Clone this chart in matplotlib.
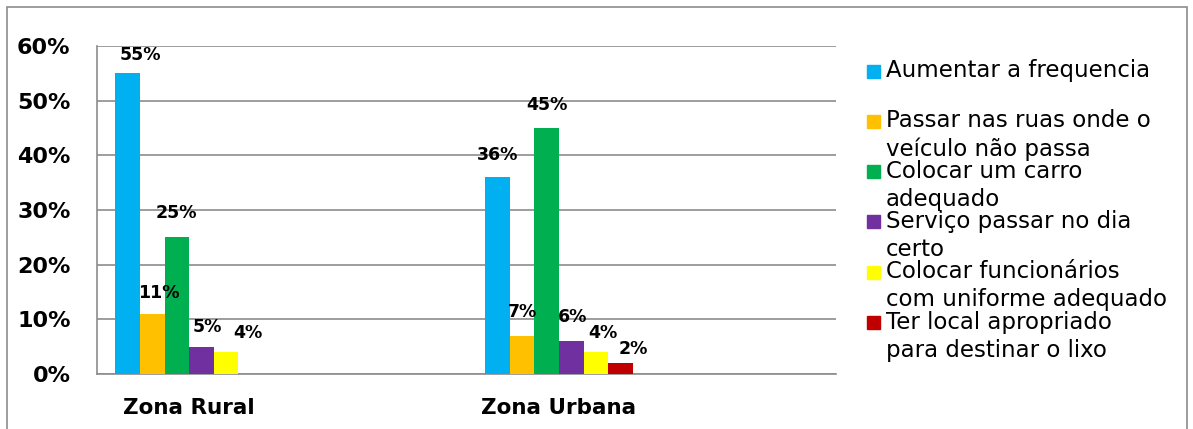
import matplotlib.pyplot as plt
from matplotlib.patches import Rectangle

categories = ['Zona Rural', 'Zona Urbana']
series = ['Aumentar a frequencia',
          'Passar nas ruas onde o\nveículo não passa',
          'Colocar um carro\nadequado',
          'Serviço passar no dia\ncerto',
          'Colocar funcionários\ncom uniforme adequado',
          'Ter local apropriado\npara destinar o lixo']
colors = ['#00B0F0', '#FFC000', '#00B050', '#7030A0', '#FFFF00', '#C00000']
rural = [55, 11, 25, 5, 4, None]
urbana = [36, 7, 45, 6, 4, 2]
yticks = [0, 10, 20, 30, 40, 50, 60]

# label nudges (pixels) as placed by hand in the original chart
label_dx = [[13, 7, 0, 6, 22, 0], [0, 0, 0, 1, 7, 13]]
label_dy = [[9, 12, 15, 11, 10, 0], [13, 15, 14, 15, 10, 5]]

W, H = 1193, 429
fig = plt.figure(figsize=(W / 100, H / 100), dpi=100)
ax = fig.add_axes([97 / W, 1 - 374 / H, (836 - 97) / W, (374 - 46) / H])

# outer chart border (bottom edge runs off the picture)
fig.patches.append(Rectangle((7 / W, -0.05), (1187 - 7) / W, 1 - 7 / H + 0.05,
                             transform=fig.transFigure, fill=False,
                             edgecolor='#8c8c8c', linewidth=1.2))

w = 0.0665
for i, name in enumerate(series):
    vals = [rural[i], urbana[i]]
    for j, v in enumerate(vals):
        if v is None:
            continue
        x = j + (i - 2.5) * w
        ax.bar(x, v, width=w, color=colors[i], zorder=3)
        ax.annotate(f'{v}%', (x, v), xytext=(label_dx[j][i], label_dy[j][i]),
                    textcoords='offset pixels', ha='center', va='bottom',
                    fontsize=12.5, fontweight='bold', zorder=4)

ax.set_xlim(-0.249, 1.749)
ax.set_ylim(0, 60)
ax.set_yticks(yticks)
ax.set_yticklabels([f'{t}%' for t in yticks])
ax.set_xticks([0, 1])
ax.set_xticklabels(categories)
ax.tick_params(axis='y', length=0, pad=19, labelsize=16)
ax.tick_params(axis='x', length=0, pad=17, labelsize=15.5)
for lab in ax.get_xticklabels() + ax.get_yticklabels():
    lab.set_fontweight('bold')

ax.grid(axis='y', color='#8c8c8c', linewidth=1.2, zorder=0)
for s in ['top', 'right']:
    ax.spines[s].set_visible(False)
for s in ['left', 'bottom']:
    ax.spines[s].set_color('#8c8c8c')
    ax.spines[s].set_linewidth(1.2)

# legend drawn by hand so the marker sits on the first line
for i, name in enumerate(series):
    yc = 71 + 50.3 * i
    fig.patches.append(Rectangle((867 / W, 1 - (yc + 6.5) / H), 13 / W, 13 / H,
                                 transform=fig.transFigure, color=colors[i]))
    fig.text(886 / W, 1 - (yc - 12) / H, name, fontsize=16.5, va='top', ha='left',
             linespacing=1.28)

fig.savefig('out.png', dpi=100)
